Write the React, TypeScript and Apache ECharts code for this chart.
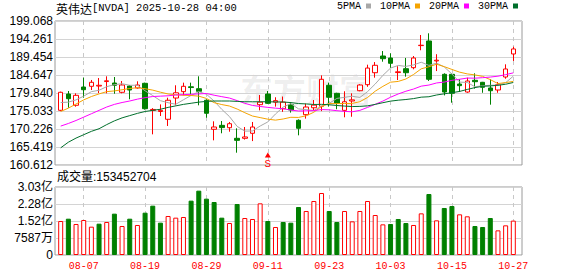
import React, { useEffect, useRef } from 'react';
import * as echarts from 'echarts';

const categories = [
  '08-04','08-05','08-06','08-07','08-08','08-11','08-12','08-13','08-14','08-15',
  '08-18','08-19','08-20','08-21','08-22','08-25','08-26','08-27','08-28','08-29',
  '09-02','09-03','09-04','09-05','09-08','09-09','09-10','09-11','09-12','09-15',
  '09-16','09-17','09-18','09-19','09-22','09-23','09-24','09-25','09-26','09-29',
  '09-30','10-01','10-02','10-03','10-06','10-07','10-08','10-09','10-10','10-13',
  '10-14','10-15','10-16','10-17','10-20','10-21','10-22','10-23','10-24','10-27',
];

const opens = [
  175.22,179.57,176.56,181.44,181.63,181.7,182.9,182.51,180.03,181.71,
  181.18,182.43,175.2,174.9,172.82,178.5,180.2,181.5,180.99,177.9,
  170.15,171.2,170.57,167.74,167.74,169.08,176.72,179.57,177.4,175.65,
  176.7,172.55,174.05,175.9,176.3,181.9,179.76,175.2,177.7,180.45,
  182.06,185.26,189.72,189.19,185.3,186.33,186.6,192.5,193.73,188.4,
  184.83,184.83,182.24,180.1,183.23,182.7,181.18,180.64,184.11,190.26,
];
const closes = [
  180.03,178.32,179.22,180.72,182.7,181.9,183.1,181.9,181.98,180.64,
  181.98,175.65,175.45,175.2,177.9,179.9,181.63,181.3,180.29,174.42,
  170.76,170.6,171.64,167.2,168.1,170.76,177.4,177.09,177.8,177.4,
  175.3,170.42,176.1,176.6,183.5,178.7,177.09,177.5,178.0,181.98,
  186.5,187.24,189.0,187.77,185.5,185.26,189.19,192.6,183.5,188.6,
  180.1,179.76,181.8,183.04,182.86,181.36,180.45,182.06,186.25,191.6,
];
const lows = [
  175.0,175.9,176.18,178.58,180.64,179.84,179.76,179.65,179.76,178.16,
  181.0,175.4,168.8,173.7,171.03,176.55,179.2,179.5,176.55,173.24,
  167.2,169.08,169.5,163.9,167.4,167.0,175.2,176.9,176.2,174.8,
  174.6,168.54,173.0,175.3,175.0,176.2,175.5,173.35,173.5,180.3,
  181.5,183.93,188.2,186.5,183.3,184.2,186.17,191.25,183.05,185.7,
  179.2,177.25,180.1,179.9,181.0,179.9,176.72,179.9,183.66,188.39,
];
const highs = [
  180.2,180.37,179.76,183.93,183.32,183.84,184.3,184.11,183.04,181.98,
  182.96,182.6,175.8,176.8,178.58,181.9,182.6,182.6,184.3,178.16,
  172.28,172.36,172.1,170.41,170.76,172.1,179.3,180.37,178.7,178.9,
  177.4,172.8,177.0,177.97,184.55,182.6,179.9,180.3,179.76,182.2,
  187.4,188.1,191.05,190.44,187.0,189.2,189.72,195.33,195.78,190.2,
  185.1,185.1,183.5,183.93,185.1,182.8,183.5,182.77,187.5,192.2,
];

const volumes = [
  151700000,162000000,138400000,156200000,126400000,139800000,147300000,184500000,129400000,162000000,
  133900000,188900000,220200000,144300000,174100000,166600000,169600000,242500000,287100000,251400000,
  236500000,166600000,142800000,227600000,165100000,160700000,230600000,151700000,125000000,147300000,
  144200000,214200000,196400000,241000000,276700000,196400000,147300000,196400000,150200000,196400000,
  241000000,178500000,136800000,138400000,160700000,142800000,133900000,185900000,272200000,154700000,
  209800000,218700000,181500000,172600000,129400000,125000000,165100000,110000000,132400000,153452704,
];

const ma5 = [
  177.3,177.4,178.0,179.0,180.2,180.57,181.53,182.06,182.32,181.9,
  181.92,180.43,179.15,177.79,177.25,176.83,178.03,179.19,180.2,179.51,
  177.68,175.47,173.54,170.92,169.66,169.7,171.02,172.11,174.23,176.09,
  177.0,175.6,175.4,175.16,176.38,177.06,178.4,178.68,178.96,178.65,
  180.21,182.24,184.54,186.5,187.2,186.95,187.34,188.06,187.21,187.83,
  186.8,184.91,182.75,182.66,181.51,181.76,181.9,181.95,182.6,184.34,
];
const ma10 = [
  174.9,175.8,176.9,178.0,178.9,179.6,180.2,180.4,180.7,181.05,
  181.25,180.98,180.61,180.06,179.58,179.38,179.23,179.17,179.0,178.38,
  177.26,176.75,176.36,175.56,174.58,173.69,173.27,172.85,172.6,172.9,
  173.35,173.31,173.76,174.7,176.24,177.03,177.0,177.04,177.06,177.52,
  178.64,180.32,181.61,182.73,182.93,183.58,184.79,186.3,186.85,187.52,
  186.88,186.13,185.41,184.94,184.67,184.28,183.41,182.35,182.63,182.93,
];
const ma20 = [
  171.0,171.7,172.5,173.4,174.3,175.2,176.1,176.8,177.3,177.7,
  178.2,178.6,178.9,179.0,179.1,179.3,179.4,179.5,179.6,179.71,
  179.25,178.86,178.49,177.81,177.08,176.52,176.24,176.0,175.79,175.63,
  175.29,175.03,175.06,175.13,175.41,175.35,175.12,174.93,174.82,175.2,
  175.99,176.82,177.68,178.71,179.58,180.31,180.9,181.67,181.96,182.52,
  182.76,183.22,183.51,183.83,183.8,183.93,184.1,184.33,184.74,185.22,
];
const ma30 = [
  165.2,166.7,167.8,168.7,169.6,170.3,171.4,172.4,173.2,173.8,
  174.4,174.9,175.2,175.5,176.0,176.4,176.8,177.1,177.4,177.6,
  177.7,177.7,177.7,177.6,177.5,177.5,177.5,177.5,177.45,177.44,
  177.28,177.02,176.92,176.78,176.81,176.7,176.5,176.35,176.22,176.26,
  176.41,176.8,177.25,177.67,177.92,178.1,178.35,178.73,178.84,179.31,
  179.62,179.92,180.26,180.79,181.28,181.63,181.73,181.9,182.18,182.65,
];

const priceTicks = ['160.612','165.419','170.226','175.033','179.840','184.647','189.454','194.261','199.068'];
const volTicks = ['0','7587万','1.52亿','2.28亿','3.03亿'];
const xLabels = ['08-07','08-19','08-29','09-11','09-23','10-03','10-15','10-27'];
const priceMin = 160.612;
const priceMax = 199.068;
const volMax = 303480000;
const lastVolume = 153452704;
const signalDate = '09-11';
const signalPrice = 163.3;
const titleName = '英伟达';
const titleRest = '[NVDA] 2025-10-28 04:00';

const RED = '#ff0000';
const GREEN = '#008000';
const MONO = "'Liberation Mono', 'Noto Sans CJK SC', monospace";
const SANS = "'Liberation Sans', Arial, 'Noto Sans CJK SC', sans-serif";

export default function App() {
  const ref = useRef<HTMLDivElement>(null);
  useEffect(() => {
    if (!ref.current) return;
    const chart = echarts.init(ref.current, null, { renderer: 'svg' });
    const candleData = categories.map((_, i) => [opens[i], closes[i], lows[i], highs[i]]);
    const volData = volumes.map((v, i) => {
      const up = i === 0 ? closes[0] >= opens[0] : closes[i] >= closes[i - 1];
      return {
        value: v,
        itemStyle: {
          color: up ? '#ffffff' : GREEN,
          borderColor: up ? RED : GREEN,
          borderWidth: 1,
        },
      };
    });
    const showAt = (i: number) => xLabels.includes(categories[i]);
    const volStep = volMax / 4;
    const maSeries = [
      { name: '5PMA', data: ma5, color: '#a8a8a8' },
      { name: '10PMA', data: ma10, color: '#f5a400' },
      { name: '20PMA', data: ma20, color: '#ff00ff' },
      { name: '30PMA', data: ma30, color: '#006f2c' },
    ].map((m) => ({
      type: 'line',
      name: m.name,
      data: m.data,
      xAxisIndex: 1,
      yAxisIndex: 1,
      symbol: 'none',
      z: 4,
      lineStyle: { color: m.color, width: 1 },
      itemStyle: { color: m.color },
    }));

    const candleGrid = { left: 60.7, right: 64.7 };
    chart.setOption({
      animation: false,
      backgroundColor: '#ffffff',
      title: [
        {
          text: `{a|${titleName}}{b|${titleRest}}`,
          left: 56,
          top: 2,
          padding: 0,
          textStyle: {
            fontWeight: 'normal',
            rich: {
              a: { fontFamily: "'Noto Sans CJK SC'", fontSize: 12, fontWeight: 'normal', color: '#000' },
              b: { fontFamily: MONO, fontSize: 10.5, fontWeight: 'normal', color: '#000' },
            },
          },
        },
        {
          text: `成交量:${lastVolume}`,
          left: 57,
          top: 171,
          padding: 0,
          textStyle: { fontFamily: SANS, fontSize: 12, fontWeight: 'normal', color: '#000' },
        },
      ],
      legend: {
        data: ['5PMA', '10PMA', '20PMA', '30PMA'],
        left: 337,
        top: 1,
        padding: 0,
        itemWidth: 5,
        itemHeight: 5,
        itemGap: 9,
        align: 'right',
        icon: 'rect',
        selectedMode: false,
        textStyle: { fontFamily: MONO, fontSize: 10, color: '#000', padding: [0, 0, 0, 0] },
      },
      graphic: [
        {
          type: 'text',
          left: 240,
          top: 72,
          z: 0,
          silent: true,
          style: {
            text: '东方财富',
            fontSize: 33,
            fontWeight: 'bold',
            fontFamily: "'Noto Sans CJK SC'",
            fill: 'rgba(0,0,0,0.07)',
          },
        },
      ],
      grid: [
        { left: 55, right: 56, top: 21, bottom: 111, show: true, borderColor: '#9a9a9a', borderWidth: 1 },
        { ...candleGrid, top: 21, bottom: 111 },
        { left: 55, right: 56, top: 187, bottom: 21, show: true, borderColor: '#9a9a9a', borderWidth: 1 },
        { ...candleGrid, top: 187, bottom: 21 },
      ],
      xAxis: [
        { type: 'value', gridIndex: 0, min: 0, max: 1, show: false },
        {
          type: 'category',
          gridIndex: 1,
          data: categories,
          boundaryGap: false,
          axisLine: { show: false },
          axisTick: { show: false },
          axisLabel: { show: false },
          splitLine: { show: true, interval: showAt, lineStyle: { color: '#c8c8c8', type: [4, 4], width: 1 } },
        },
        { type: 'value', gridIndex: 2, min: 0, max: 1, show: false },
        {
          type: 'category',
          gridIndex: 3,
          data: categories,
          boundaryGap: false,
          axisLine: { show: false },
          axisTick: { show: false },
          axisLabel: { show: true, interval: showAt, color: RED, fontFamily: MONO, fontSize: 10, margin: 6 },
          splitLine: { show: true, interval: showAt, lineStyle: { color: '#c8c8c8', type: [4, 4], width: 1 } },
        },
      ],
      yAxis: [
        {
          type: 'value',
          gridIndex: 0,
          min: 0,
          max: priceTicks.length - 1,
          interval: 1,
          axisLine: { show: false },
          axisTick: { show: false },
          axisLabel: {
            formatter: (v: number) => priceTicks[Math.round(v)],
            color: '#000',
            fontFamily: SANS,
            fontSize: 12,
            margin: 2,
          },
          splitLine: { show: true, lineStyle: { color: '#d4d4d4', width: 1 } },
        },
        { type: 'value', gridIndex: 1, min: priceMin, max: priceMax, show: false, splitLine: { show: false } },
        {
          type: 'value',
          gridIndex: 2,
          min: 0,
          max: volMax,
          interval: volStep,
          axisLine: { show: false },
          axisTick: { show: false },
          axisLabel: {
            formatter: (v: number) => volTicks[Math.round(v / volStep)],
            color: '#000',
            fontFamily: SANS,
            fontSize: 12,
            margin: 2,
          },
          splitLine: { show: true, lineStyle: { color: '#d4d4d4', width: 1 } },
        },
        { type: 'value', gridIndex: 3, min: 0, max: volMax, show: false, splitLine: { show: false } },
      ],
      series: [
        {
          type: 'candlestick',
          xAxisIndex: 1,
          yAxisIndex: 1,
          data: candleData,
          barWidth: 5,
          clip: false,
          z: 3,
          itemStyle: {
            color: '#ffffff',
            color0: GREEN,
            borderColor: RED,
            borderColor0: GREEN,
            borderWidth: 1,
          },
          markPoint: {
            symbol: 'triangle',
            symbolSize: [6, 5],
            itemStyle: { color: RED },
            label: {
              show: true,
              formatter: 'S',
              position: 'bottom',
              distance: 1,
              color: RED,
              fontFamily: MONO,
              fontSize: 11,
            },
            data: [{ coord: [signalDate, signalPrice] }],
          },
        },
        ...maSeries,
        {
          type: 'bar',
          xAxisIndex: 3,
          yAxisIndex: 3,
          data: volData,
          barWidth: 5,
          clip: false,
        },
      ],
    });
    return () => chart.dispose();
  }, []);
  return (
    <div
      ref={ref}
      style={{ position: 'absolute', left: 0, top: 0, width: 578, height: 276, background: '#fff' }}
    />
  );
}
